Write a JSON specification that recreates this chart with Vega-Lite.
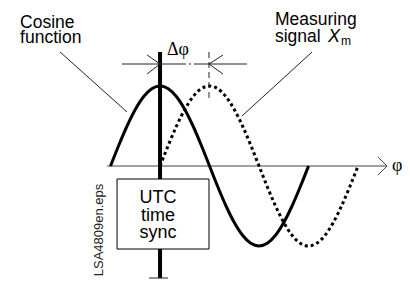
{
  "$schema": "https://vega.github.io/schema/vega-lite/v6.json",
  "width": 410,
  "height": 282,
  "padding": 0,
  "autosize": {"type": "fit", "contains": "padding"},
  "background": "white",
  "config": {"view": {"stroke": null}},
  "datasets": {
    "curves": [
      {"s": "cos", "x": -90, "y": 0}, {"s": "cos", "x": -75, "y": 0.259}, {"s": "cos", "x": -60, "y": 0.5},
      {"s": "cos", "x": -45, "y": 0.707}, {"s": "cos", "x": -30, "y": 0.866}, {"s": "cos", "x": -15, "y": 0.966},
      {"s": "cos", "x": 0, "y": 1}, {"s": "cos", "x": 15, "y": 0.966}, {"s": "cos", "x": 30, "y": 0.866},
      {"s": "cos", "x": 45, "y": 0.707}, {"s": "cos", "x": 60, "y": 0.5}, {"s": "cos", "x": 75, "y": 0.259},
      {"s": "cos", "x": 90, "y": 0}, {"s": "cos", "x": 105, "y": -0.259}, {"s": "cos", "x": 120, "y": -0.5},
      {"s": "cos", "x": 135, "y": -0.707}, {"s": "cos", "x": 150, "y": -0.866}, {"s": "cos", "x": 165, "y": -0.966},
      {"s": "cos", "x": 180, "y": -1}, {"s": "cos", "x": 195, "y": -0.966}, {"s": "cos", "x": 210, "y": -0.866},
      {"s": "cos", "x": 225, "y": -0.707}, {"s": "cos", "x": 240, "y": -0.5}, {"s": "cos", "x": 255, "y": -0.259},
      {"s": "cos", "x": 270, "y": 0},
      {"s": "sig", "x": 0, "y": 0}, {"s": "sig", "x": 15, "y": 0.259}, {"s": "sig", "x": 30, "y": 0.5},
      {"s": "sig", "x": 45, "y": 0.707}, {"s": "sig", "x": 60, "y": 0.866}, {"s": "sig", "x": 75, "y": 0.966},
      {"s": "sig", "x": 90, "y": 1}, {"s": "sig", "x": 105, "y": 0.966}, {"s": "sig", "x": 120, "y": 0.866},
      {"s": "sig", "x": 135, "y": 0.707}, {"s": "sig", "x": 150, "y": 0.5}, {"s": "sig", "x": 165, "y": 0.259},
      {"s": "sig", "x": 180, "y": 0}, {"s": "sig", "x": 195, "y": -0.259}, {"s": "sig", "x": 210, "y": -0.5},
      {"s": "sig", "x": 225, "y": -0.707}, {"s": "sig", "x": 240, "y": -0.866}, {"s": "sig", "x": 255, "y": -0.966},
      {"s": "sig", "x": 270, "y": -1}, {"s": "sig", "x": 285, "y": -0.966}, {"s": "sig", "x": 300, "y": -0.866},
      {"s": "sig", "x": 315, "y": -0.707}, {"s": "sig", "x": 330, "y": -0.5}, {"s": "sig", "x": 345, "y": -0.259},
      {"s": "sig", "x": 360, "y": 0}
    ],
    "segs": [
      {"g": "axis", "x": -96, "y": 0, "x2": 412.7, "y2": 0},
      {"g": "axis", "x": 396.4, "y": 0.1125, "x2": 412.7, "y2": 0},
      {"g": "axis", "x": 396.4, "y": -0.1125, "x2": 412.7, "y2": 0},
      {"g": "thick", "x": 0, "y": -1.4, "x2": 0, "y2": 1.425},
      {"g": "thin", "x": -20, "y": -1.4, "x2": 14.5, "y2": -1.4},
      {"g": "thin", "x": -69, "y": 1.275, "x2": 0, "y2": 1.275},
      {"g": "thin", "x": -23.6, "y": 1.3875, "x2": 0, "y2": 1.275},
      {"g": "thin", "x": -23.6, "y": 1.15, "x2": 0, "y2": 1.275},
      {"g": "dashdot", "x": 0, "y": 1.275, "x2": 89, "y2": 1.275},
      {"g": "thin", "x": 89, "y": 1.275, "x2": 158, "y2": 1.275},
      {"g": "thin", "x": 114.5, "y": 1.3875, "x2": 89, "y2": 1.275},
      {"g": "thin", "x": 114.5, "y": 1.15, "x2": 89, "y2": 1.275},
      {"g": "dash", "x": 89, "y": 1.425, "x2": 89, "y2": 0.825},
      {"g": "thin", "x": -181.8, "y": 1.425, "x2": -60, "y2": 0.675},
      {"g": "thin", "x": 276.4, "y": 1.425, "x2": 149, "y2": 0.625}
    ],
    "labels": [
      {"x": -254.5, "y": 1.725, "t": "Cosine"},
      {"x": -254.5, "y": 1.5375, "t": "function"},
      {"x": 209, "y": 1.7625, "t": "Measuring"},
      {"x": 209, "y": 1.55, "t": "signal"}
    ],
    "boxtext": [
      {"x": -3.6, "y": -0.459, "t": "UTC"},
      {"x": -3.6, "y": -0.684, "t": "time"},
      {"x": -3.6, "y": -0.904, "t": "sync"}
    ]
  },
  "encoding": {
    "x": {"field": "x", "type": "quantitative", "axis": null, "scale": {"domain": [-291, 454.5], "nice": false, "zero": false}},
    "y": {"field": "y", "type": "quantitative", "axis": null, "scale": {"domain": [-1.45, 2.075], "nice": false, "zero": false}}
  },
  "layer": [
    {
      "data": {"name": "segs"},
      "transform": [{"filter": "datum.g == 'axis'"}],
      "mark": {"type": "rule", "color": "#444", "strokeWidth": 1},
      "encoding": {"x2": {"field": "x2"}, "y2": {"field": "y2"}}
    },
    {
      "data": {"name": "curves"},
      "transform": [{"filter": "datum.s == 'sig'"}],
      "mark": {"type": "line", "color": "black", "strokeWidth": 3, "strokeDash": [3, 3], "interpolate": "monotone"}
    },
    {
      "data": {"name": "curves"},
      "transform": [{"filter": "datum.s == 'cos'"}],
      "mark": {"type": "line", "color": "black", "strokeWidth": 3, "interpolate": "monotone"}
    },
    {
      "data": {"name": "segs"},
      "transform": [{"filter": "datum.g == 'thick'"}],
      "mark": {"type": "rule", "color": "black", "strokeWidth": 4},
      "encoding": {"x2": {"field": "x2"}, "y2": {"field": "y2"}}
    },
    {
      "data": {"name": "segs"},
      "transform": [{"filter": "datum.g == 'thin'"}],
      "mark": {"type": "rule", "color": "#222", "strokeWidth": 1},
      "encoding": {"x2": {"field": "x2"}, "y2": {"field": "y2"}}
    },
    {
      "data": {"name": "segs"},
      "transform": [{"filter": "datum.g == 'dashdot'"}],
      "mark": {"type": "rule", "color": "#222", "strokeWidth": 1, "strokeDash": [26, 3, 2, 3]},
      "encoding": {"x2": {"field": "x2"}, "y2": {"field": "y2"}}
    },
    {
      "data": {"name": "segs"},
      "transform": [{"filter": "datum.g == 'dash'"}],
      "mark": {"type": "rule", "color": "#222", "strokeWidth": 1, "strokeDash": [6, 4]},
      "encoding": {"x2": {"field": "x2"}, "y2": {"field": "y2"}}
    },
    {
      "data": {"values": [{"x": -78.2, "x2": 89, "y": -0.1625, "y2": -1.0375}]},
      "mark": {"type": "rect", "fill": "white", "stroke": "black", "strokeWidth": 1},
      "encoding": {"x2": {"field": "x2"}, "y2": {"field": "y2"}}
    },
    {
      "data": {"name": "boxtext"},
      "mark": {"type": "text", "font": "Liberation Sans", "fontSize": 18, "align": "center", "baseline": "alphabetic", "color": "black"},
      "encoding": {"text": {"field": "t"}}
    },
    {
      "data": {"name": "labels"},
      "mark": {"type": "text", "font": "Liberation Sans", "fontSize": 17.5, "align": "left", "baseline": "alphabetic", "color": "black"},
      "encoding": {"text": {"field": "t"}}
    },
    {
      "data": {"values": [{"x": 305.5, "y": 1.55, "t": "X"}]},
      "mark": {"type": "text", "font": "Liberation Sans", "fontSize": 18, "fontStyle": "italic", "align": "left", "baseline": "alphabetic", "color": "black"},
      "encoding": {"text": {"field": "t"}}
    },
    {
      "data": {"values": [{"x": 329.1, "y": 1.5125, "t": "m"}]},
      "mark": {"type": "text", "font": "Liberation Sans", "fontSize": 12, "align": "left", "baseline": "alphabetic", "color": "black"},
      "encoding": {"text": {"field": "t"}}
    },
    {
      "data": {"values": [{"x": 12.7, "y": 1.3875, "t": "Δφ"}]},
      "mark": {"type": "text", "font": "Liberation Serif", "fontSize": 18, "align": "left", "baseline": "alphabetic", "color": "black"},
      "encoding": {"text": {"field": "t"}}
    },
    {
      "data": {"values": [{"x": 421.8, "y": 0, "t": "φ"}]},
      "mark": {"type": "text", "font": "Liberation Serif", "fontSize": 18, "align": "left", "baseline": "middle", "color": "black"},
      "encoding": {"text": {"field": "t"}}
    },
    {
      "data": {"values": [{"x": -110.9, "y": -0.8, "t": "LSA4809en.eps"}]},
      "mark": {"type": "text", "font": "Liberation Sans", "fontSize": 13, "angle": 270, "align": "center", "baseline": "middle", "color": "#222"},
      "encoding": {"text": {"field": "t"}}
    }
  ]
}
